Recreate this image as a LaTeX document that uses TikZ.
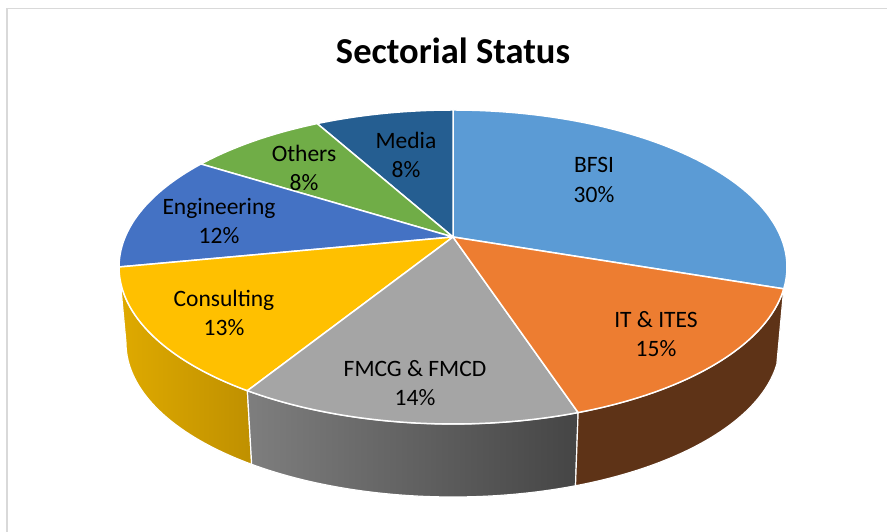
\documentclass[tikz,border=0pt]{standalone}
\usepackage{fontspec}
\setmainfont{Carlito}
\usetikzlibrary{calc}
\definecolor{cBFSI}{HTML}{5B9BD5}
\definecolor{cIT}{HTML}{ED7D31}
\definecolor{cITside}{HTML}{5E3317}
\definecolor{cFMCG}{HTML}{A5A5A5}
\definecolor{cFMCGl}{HTML}{7E7E7E}
\definecolor{cFMCGr}{HTML}{454545}
\definecolor{cCons}{HTML}{FFC000}
\definecolor{cConsl}{HTML}{DFAA00}
\definecolor{cConsr}{HTML}{BF9000}
\definecolor{cEng}{HTML}{4472C4}
\definecolor{cOth}{HTML}{70AD47}
\definecolor{cMedia}{HTML}{255E91}
\definecolor{frame}{HTML}{D9D9D9}
\tikzset{
  slice/.style={draw=white, line width=1.5pt, line join=round},
  lbl/.style={font=\fontsize{23.5}{29.5}\selectfont, align=center, text=black, inner sep=0pt},
  ttl/.style={font=\fontsize{36.5}{44}\selectfont\bfseries, text=black, inner sep=0pt},
  framestyle/.style={draw=frame, line width=1.6pt}
}
% top ellipse: centre (453,265), radii 334 x 157 ; bottom ellipse: centre (453,189), radii 327 x 154
\newcommand{\tp}[1]{({453+334*cos(#1)},{265+157*sin(#1)})}
\newcommand{\bt}[1]{({453+327*cos(#1)},{189+154*sin(#1)})}
\newcommand{\sidepath}[2]{\tp{#1} arc[start angle=#1, end angle=#2, x radius=334pt, y radius=157pt] -- \bt{#2} arc[start angle=#2, end angle=#1, x radius=327pt, y radius=154pt] -- cycle}
\newcommand{\toppath}[2]{(O) -- \tp{#1} arc[start angle=#1, end angle=#2, x radius=334pt, y radius=157pt] -- cycle}
\begin{document}
\begin{tikzpicture}[x=1pt,y=1pt]
\useasboundingbox (0,0) rectangle (887,532);
\fill[white] (0,0) rectangle (887,532);
\draw[framestyle] (7,0) -- (7,523.5) -- (887,523.5);
\coordinate (O) at (453,295);
% sides
\shade[left color=cConsl, right color=cConsr] \sidepath{180}{232};
\draw[draw=white, line width=1.2pt, line join=round] \sidepath{180}{232};
\shade[left color=cFMCGl, right color=cFMCGr] \sidepath{232}{292};
\draw[draw=white, line width=1.2pt, line join=round] \sidepath{232}{292};
\fill[cITside] \sidepath{292}{352};
\draw[draw=white, line width=1.2pt, line join=round] \sidepath{292}{352};
% top face
\fill[cBFSI, slice] \toppath{-8}{90};
\fill[cMedia, slice] \toppath{90}{114};
\fill[cOth, slice] \toppath{114}{139};
\fill[cEng, slice] \toppath{139}{180};
\fill[cCons, slice] \toppath{180}{232};
\fill[cFMCG, slice] \toppath{232}{292};
\fill[cIT, slice] \toppath{292}{352};
% labels
\node[ttl] (title) at (453,481) {Sectorial Status};
\node[lbl] (lBFSI) at (594,352) {BFSI\\30\%};
\node[lbl] (lMedia) at (406,377) {Media\\8\%};
\node[lbl] (lOth) at (304,364) {Others\\8\%};
\node[lbl] (lEng) at (219,311) {Engineering\\12\%};
\node[lbl] (lCons) at (224,219) {Consulting\\13\%};
\node[lbl] (lFMCG) at (415,149) {FMCG \& FMCD\\14\%};
\node[lbl] (lIT) at (656,198) {IT \& ITES\\15\%};
\end{tikzpicture}
\end{document}
